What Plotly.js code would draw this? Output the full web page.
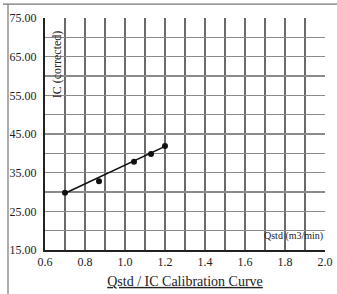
<!DOCTYPE html>
<html><head><meta charset="utf-8">
<script src="https://cdn.plot.ly/plotly-3.0.1.min.js"></script>
<style>html,body{margin:0;padding:0;background:#fff;}</style>
</head><body>
<div id="chart" style="width:337px;height:294px;"></div>
<script>
// Data
var qstd = [0.70, 0.87, 1.045, 1.13, 1.20];
var icCorrected = [29.8, 32.8, 37.8, 39.8, 41.9];
var fitX = [0.70, 1.20];
var fitY = [29.7, 41.8];
var xTickVals = [0.6, 0.8, 1.0, 1.2, 1.4, 1.6, 1.8, 2.0];
var xTickText = ["0.6", "0.8", "1.0", "1.2", "1.4", "1.6", "1.8", "2.0"];
var xGridVals = [0.7, 0.8, 0.9, 1.0, 1.1, 1.2, 1.3, 1.4, 1.5, 1.6, 1.7, 1.8, 1.9];
var yTickVals = [15, 25, 35, 45, 55, 65, 75];
var yTickText = ["15.00", "25.00", "35.00", "45.00", "55.00", "65.00", "75.00"];
var yGridVals = [20, 25, 30, 35, 40, 45, 50, 55, 60, 65, 70];

var font = "Liberation Serif, Times New Roman, serif";
var gridColor = "#6a6a6a";

var traces = [
  {x: fitX, y: fitY, xaxis: "x2", yaxis: "y2", mode: "lines",
   line: {color: "#111", width: 1.6}, hoverinfo: "skip", showlegend: false},
  {x: qstd, y: icCorrected, mode: "markers",
   marker: {color: "#111", size: 6, symbol: "circle"}, showlegend: false}
];

var layout = {
  width: 337, height: 294,
  margin: {l: 45, r: 12, t: 18, b: 44},
  paper_bgcolor: "#fff", plot_bgcolor: "#fff",
  font: {family: font, color: "#222", size: 12},
  showlegend: false,
  title: {text: "<u>Qstd / IC Calibration Curve</u>", font: {family: font, size: 14, color: "#222"},
          x: 0.549, xanchor: "center", xref: "container", y: 1 - 281/294, yanchor: "middle", yref: "container"},
  xaxis: {range: [0.6, 2.0], tickvals: xTickVals, ticktext: xTickText, showgrid: false, zeroline: false,
          showline: true, linecolor: "#222", linewidth: 2, ticks: "", tickfont: {family: font, size: 12, color: "#222"}},
  yaxis: {range: [15, 75], tickvals: yTickVals, ticktext: yTickText, showgrid: false, zeroline: false,
          showline: true, linecolor: "#222", linewidth: 2, ticks: "", ticklabelstandoff: 4,
          tickfont: {family: font, size: 12, color: "#222"}},
  xaxis2: {range: [0.6, 2.0], overlaying: "x", anchor: "y", tickvals: xGridVals, showticklabels: false,
           showgrid: true, gridcolor: gridColor, gridwidth: 1.2, zeroline: false, showline: false, ticks: ""},
  yaxis2: {range: [15, 75], overlaying: "y", anchor: "x", tickvals: yGridVals, showticklabels: false,
           showgrid: true, gridcolor: "#8a8a8a", gridwidth: 1.2, zeroline: false, showline: false, ticks: ""},
  annotations: [
    {text: "IC (corrected)", textangle: -90, xref: "paper", yref: "paper", x: 0.046, y: 0.80,
     xanchor: "center", yanchor: "middle", showarrow: false, font: {family: font, size: 12, color: "#222"}},
    {text: "Qstd (m3/min)", xref: "paper", yref: "paper", x: 1.0, y: 0.06,
     xanchor: "right", yanchor: "middle", showarrow: false, font: {family: font, size: 10, color: "#222"}}
  ],
  shapes: [
    {type: "line", xref: "paper", yref: "paper", x0: (8-45)/280, x1: (8-45)/280, y0: 1.06, y1: -0.19,
     line: {color: "#777", width: 1.2}},
    {type: "line", xref: "paper", yref: "paper", x0: (3-45)/280, x1: (337-45)/280, y0: 1.06, y1: 1.06,
     line: {color: "#777", width: 1.2}}
  ]
};

Plotly.newPlot("chart", traces, layout, {displayModeBar: false, staticPlot: true});
</script>
</body></html>
